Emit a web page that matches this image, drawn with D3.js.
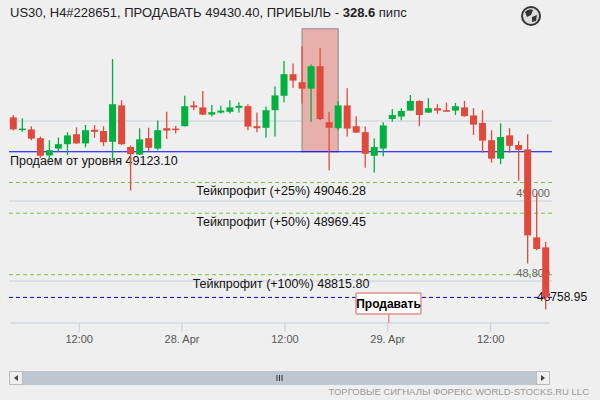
<!DOCTYPE html>
<html>
<head>
<meta charset="utf-8">
<script src="https://cdn.jsdelivr.net/npm/d3@7/dist/d3.min.js"></script>
<style>
  body { margin: 0; background: #efefef; }
  svg { display: block; font-family: "Liberation Sans", Arial, sans-serif; }
</style>
</head>
<body>
<svg id="chart" width="600" height="400"></svg>
<script>
// OHLC, hourly candles
const opens  = [49209,49177,49179,49157,49114,49131,49142,49167,49144,49178,49175,49148,49239,49135,49116,49157,49131,49182,49181,49187,
                49239,49234,49216,49221,49223,49233,49237,49187,49183,49227,49263,49317,49297,49281,49337,49197,49182,49239,49187,49172,
                49113,49131,49205,49211,49226,49250,49221,49232,49227,49226,49234,49214,49195,49152,49106,49164,49140,49129,48909,48884];
const highs  = [49215,49207,49187,49161,49152,49159,49172,49184,49190,49190,49187,49355,49252,49139,49182,49183,49201,49223,49188,49263,
                49250,49275,49240,49238,49252,49247,49242,49221,49236,49286,49350,49344,49386,49341,49382,49223,49250,49282,49212,49186,
                49157,49197,49230,49232,49265,49252,49257,49242,49246,49245,49250,49232,49227,49177,49194,49182,49150,49167,49019,48898];
const lows   = [49176,49173,49152,49107,49102,49123,49115,49143,49134,49158,49137,49102,49140,49026,49115,49123,49127,49155,49169,49186,
                49227,49215,49211,49219,49219,49221,49177,49172,49158,49161,49247,49283,49244,49198,49202,49077,49177,49161,49170,49083,
                49071,49112,49198,49202,49225,49187,49220,49218,49224,49215,49211,49165,49121,49096,49092,49121,49051,48844,48877,48729];
const closes = [49179,49181,49156,49113,49127,49142,49164,49144,49177,49173,49147,49242,49142,49117,49154,49133,49177,49176,49179,49237,
                49234,49216,49222,49226,49234,49238,49186,49182,49227,49264,49317,49301,49281,49337,49205,49183,49239,49181,49171,49118,
                49135,49189,49215,49225,49250,49215,49232,49226,49225,49237,49212,49191,49151,49106,49160,49138,49128,48914,48880,48759];

// time axis labels at fractional candle index
const timeTickPos    = [7.3, 18.7, 30.1, 41.5, 52.9];
const timeTickLabels = ["12:00", "28. Apr", "12:00", "29. Apr", "12:00"];
const gridPrices  = [49200, 49000, 48800];
const priceLabels = ["49,000", "48,800"];

const entryPrice = 49123.10;
const sellPrice = 49430.40;
const currentPrice = 48758.95;
const tpLevels = [49046.28, 48969.45, 48815.80];
const tpLabels = ["Тейкпрофит (+25%) 49046.28", "Тейкпрофит (+50%) 48969.45", "Тейкпрофит (+100%) 48815.80"];
const signalRange = [32, 36]; // candle index span of the pink box

const svg = d3.select("#chart");
const left = 9, right = 552, axisY = 323;

const x = d3.scaleLinear().domain([0, opens.length - 1]).range([13.3, 545.7]);
const y = d3.scaleLinear().domain([49200, 48800]).range([121, 281]);
const bw = 7;

// title
const title = svg.append("text").attr("x", 10).attr("y", 17).attr("font-size", 13).attr("fill", "#222");
title.append("tspan").text("US30, H4#228651, ПРОДАВАТЬ 49430.40, ПРИБЫЛЬ - ");
title.append("tspan").attr("font-weight", "bold").text("328.6");
title.append("tspan").text(" пипс");

// globe icon
const g = svg.append("g").attr("transform", "translate(531,16)");
g.append("circle").attr("r", 10).attr("fill", "#333");
g.append("circle").attr("r", 8).attr("fill", "#dcdcdc");
g.append("path").attr("d", "M-6,-4 Q-2,-8 2,-6 L0,-1 L-4,1 Z M1,1 L6,-1 L5,5 L1,6 Z").attr("fill", "#333");

// grid
svg.append("g").selectAll("line").data(gridPrices).join("line")
  .attr("x1", left).attr("x2", right).attr("y1", d => y(d)).attr("y2", d => y(d))
  .attr("stroke", "#c6d0dc");

// signal box
svg.append("rect")
  .attr("x", x(signalRange[0])).attr("width", x(signalRange[1]) - x(signalRange[0]))
  .attr("y", y(sellPrice)).attr("height", y(entryPrice) - y(sellPrice))
  .attr("fill", "#e8b0aa").attr("stroke", "#888");

// levels
svg.append("line").attr("x1", left).attr("x2", right)
  .attr("y1", y(entryPrice)).attr("y2", y(entryPrice)).attr("stroke", "#0000ff").attr("stroke-width", 1.2);
svg.append("g").selectAll("line").data(tpLevels).join("line")
  .attr("x1", left).attr("x2", right).attr("y1", d => y(d)).attr("y2", d => y(d))
  .attr("stroke", "#7cc142").attr("stroke-dasharray", "4,3");
svg.append("line").attr("x1", left).attr("x2", right)
  .attr("y1", y(currentPrice)).attr("y2", y(currentPrice))
  .attr("stroke", "#0000cc").attr("stroke-dasharray", "4,3");

// level texts
svg.append("text").attr("x", 10).attr("y", y(entryPrice) + 13).attr("font-size", 12.5).attr("fill", "#111")
  .text("Продаем от уровня 49123.10");
svg.append("g").selectAll("text").data(tpLevels).join("text")
  .attr("x", 281).attr("y", d => y(d) + 13).attr("text-anchor", "middle")
  .attr("font-size", 12.5).attr("fill", "#111").text((d, i) => tpLabels[i]);
svg.append("text").attr("x", 537).attr("y", y(currentPrice) + 4).attr("font-size", 12).attr("fill", "#111")
  .text(d3.format(".2f")(currentPrice));

// price labels
svg.append("g").selectAll("text").data(gridPrices.slice(1)).join("text")
  .attr("x", 550).attr("y", d => y(d) - 4).attr("text-anchor", "end")
  .attr("font-size", 11).attr("fill", "#666").text((d, i) => priceLabels[i]);

// candles
const idx = d3.range(opens.length);
const up = i => closes[i] >= opens[i];
const col = i => up(i) ? "#00b140" : "#e04a3c";
const c = svg.append("g").selectAll("g").data(idx).join("g");
c.append("line").attr("x1", i => x(i)).attr("x2", i => x(i))
  .attr("y1", i => y(highs[i])).attr("y2", i => y(lows[i])).attr("stroke", col).attr("stroke-width", 1.3);
c.append("rect").attr("x", i => x(i) - bw / 2).attr("width", bw)
  .attr("y", i => y(Math.max(opens[i], closes[i])))
  .attr("height", i => Math.max(1.5, Math.abs(y(opens[i]) - y(closes[i]))))
  .attr("fill", col);

// x axis
const axis = svg.append("g").attr("transform", `translate(0,${axisY})`);
axis.append("line").attr("x1", 10).attr("x2", 550).attr("stroke", "#c0cedd");
axis.selectAll("line.t").data(timeTickPos).join("line").attr("class", "t")
  .attr("x1", d => x(d)).attr("x2", d => x(d)).attr("y1", 0).attr("y2", 9).attr("stroke", "#c0cedd");
axis.selectAll("text").data(timeTickPos).join("text")
  .attr("x", d => x(d)).attr("y", 20).attr("text-anchor", "middle")
  .attr("font-size", 11).attr("fill", "#555").text((d, i) => timeTickLabels[i]);

// sell flag
const fx = x(41.5) + 1;
svg.append("line").attr("x1", fx).attr("x2", fx).attr("y1", 313).attr("y2", axisY).attr("stroke", "#e09090").attr("stroke-width", 1.5);
svg.append("rect").attr("x", 356).attr("y", 293).attr("width", 65).attr("height", 21).attr("rx", 1)
  .attr("fill", "#fff").attr("stroke", "#e09090").attr("stroke-width", 1.5);
svg.append("text").attr("x", 388.5).attr("y", 308).attr("text-anchor", "middle")
  .attr("font-size", 12).attr("font-weight", "bold").attr("fill", "#000").text("Продавать");

// scrollbar
const sb = svg.append("g");
sb.append("rect").attr("x", 9).attr("y", 371).attr("width", 541).attr("height", 14).attr("fill", "#bec6cf");
sb.append("rect").attr("x", 9.5).attr("y", 371.5).attr("width", 13).attr("height", 13).attr("fill", "#eee").attr("stroke", "#bbb");
sb.append("rect").attr("x", 536.5).attr("y", 371.5).attr("width", 13).attr("height", 13).attr("fill", "#eee").attr("stroke", "#bbb");
sb.append("path").attr("d", "M18,375 L14,378 L18,381 Z").attr("fill", "#444");
sb.append("path").attr("d", "M541,375 L545,378 L541,381 Z").attr("fill", "#444");
[277, 279.5, 282].forEach(v => sb.append("line").attr("x1", v).attr("x2", v).attr("y1", 375).attr("y2", 381).attr("stroke", "#333"));

svg.append("text").attr("x", 589).attr("y", 395).attr("text-anchor", "end")
  .attr("font-size", 9.5).attr("fill", "#999").text("ТОРГОВЫЕ СИГНАЛЫ ФОРЕКС WORLD-STOCKS.RU LLC");
</script>
</body>
</html>
